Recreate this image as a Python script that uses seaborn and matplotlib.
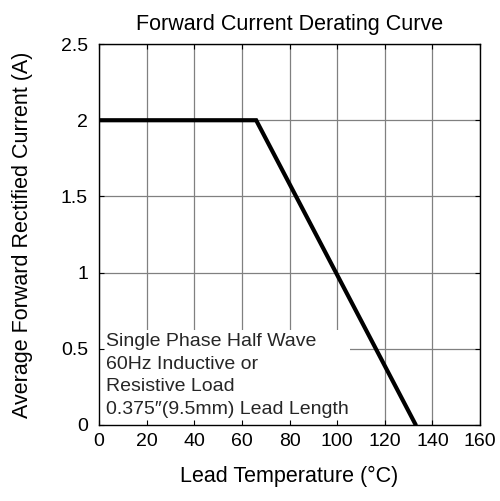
import numpy as np
import pandas as pd
import matplotlib
matplotlib.use("Agg")
import matplotlib.pyplot as plt
import seaborn as sns
from matplotlib.patches import Rectangle

# derating curve
lead_temp = [0, 66, 133]
current = [2.0, 2.0, 0.0]
x_ticks = [0, 20, 40, 60, 80, 100, 120, 140, 160]
y_ticks = [0, 0.5, 1, 1.5, 2, 2.5]
y_tick_labels = ["0", "0.5", "1", "1.5", "2", "2.5"]
note_lines = [
    "Single Phase Half Wave",
    "60Hz Inductive or",
    "Resistive Load",
    "0.375\u2033(9.5mm) Lead Length",
]

sns.set_theme(style="white")
plt.rcParams["font.family"] = ["Liberation Sans", "DejaVu Sans"]

fig = plt.figure(figsize=(5, 5.01), dpi=100)
ax = fig.add_axes([0.198, 0.152, 0.762, 0.760])

df = pd.DataFrame({"temp": lead_temp, "current": current})

# manual grid so the note box can sit over it
for xv in x_ticks:
    ax.axvline(xv, color="#808080", lw=0.9, zorder=0.5)
for yv in y_ticks:
    ax.axhline(yv, color="#808080", lw=0.9, zorder=0.5)

ax.add_patch(Rectangle((0, 0), 0.66, 0.249, transform=ax.transAxes,
                       facecolor="white", edgecolor="none", zorder=1))

sns.lineplot(data=df, x="temp", y="current", ax=ax, color="black", lw=3,
             zorder=3, solid_joinstyle="miter", clip_on=True)

ax.text(0.018, 0.029, "\n".join(note_lines), transform=ax.transAxes,
        fontsize=14, va="baseline", ha="left", linespacing=1.42, zorder=2)

ax.set_xlim(0, 160)
ax.set_ylim(0, 2.5)
ax.set_xticks(x_ticks)
ax.set_yticks(y_ticks)
ax.set_yticklabels(y_tick_labels)
ax.tick_params(direction="in", length=3.5, width=0.8, color="black",
               labelsize=14, labelcolor="black",
               bottom=True, left=True, top=True, right=True)
ax.tick_params(axis="x", pad=6)
ax.tick_params(axis="y", pad=8)
ax.set_axisbelow(False)
for sp in ax.spines.values():
    sp.set_color("black")
    sp.set_linewidth(1.0)
    sp.set_zorder(4)

ax.set_xlabel("Lead Temperature (\u00b0C)", fontsize=15.5, color="black", labelpad=11)
ax.set_ylabel("Average Forward Rectified Current (A)", fontsize=15.5, color="black", labelpad=20)
ax.set_title("Forward Current Derating Curve", fontsize=15.5, color="black", pad=10)

fig.savefig("out.png", dpi=100)
